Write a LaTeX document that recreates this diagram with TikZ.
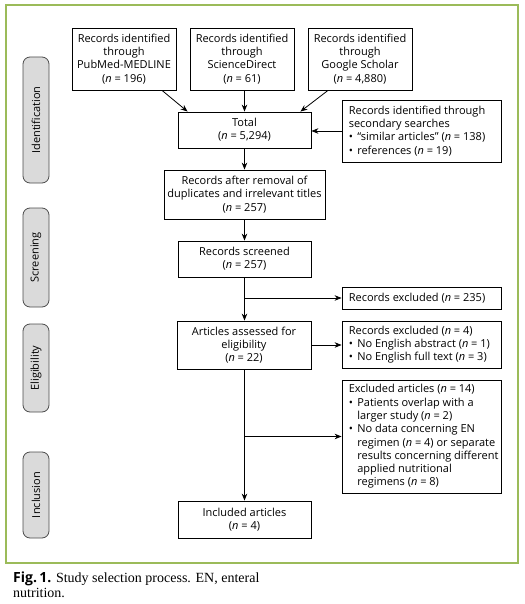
\documentclass[tikz,border=0pt]{standalone}
\usepackage{fontspec}
\setmainfont{Liberation Serif}
\setsansfont{Open Sans}
\newfontfamily\capsans{Open Sans}
\usetikzlibrary{arrows.meta,calc}
\definecolor{framegreen}{RGB}{155,187,89}
\definecolor{labelgray}{RGB}{218,218,218}
\newcommand{\nn}{\textit{n}}
\newcommand{\bitem}{\makebox[8.5pt][l]{•}}
\newcommand{\bcont}{\hspace*{8.5pt}}
\begin{document}
\begin{tikzpicture}[x=1pt,y=-1pt,
  every node/.style={font=\sffamily\fontsize{11}{13.3}\selectfont},
  box/.style={draw,line width=0.8pt,inner sep=0pt,align=center,anchor=center},
  side/.style={draw=black!70,fill=labelgray,line width=0.8pt,rounded corners=7pt,inner sep=0pt,minimum height=26pt,rotate=90,anchor=center},
  arr/.style={line width=0.8pt,-{Stealth[length=7pt,width=5.5pt]}}
]
\useasboundingbox (0,0) rectangle (524,604);
\draw[framegreen,line width=1.2pt] (6,5) rectangle (518,563);

% side labels
\node[side,minimum width=126pt] (lid) at (36,120) {};
\node[rotate=90] (tid) at (lid.center) {Identification};
\node[side,minimum width=99pt] (lsc) at (36,257.5) {};
\node[rotate=90] (tsc) at (lsc.center) {Screening};
\node[side,minimum width=88pt] (lel) at (36,368) {};
\node[rotate=90] (tel) at (lel.center) {Eligibility};
\node[side,minimum width=86pt] (lin) at (36,495) {};
\node[rotate=90] (tin) at (lin.center) {Inclusion};

% main boxes
\node[box,minimum width=104pt,minimum height=62pt] (pub) at (124,59) {Records identified\\through\\PubMed-MEDLINE\\(\nn{} = 196)};
\node[box,minimum width=104pt,minimum height=62pt] (sd) at (242,59) {Records identified\\through\\ScienceDirect\\(\nn{} = 61)};
\node[box,minimum width=104pt,minimum height=62pt] (gs) at (360,59) {Records identified\\through\\Google Scholar\\(\nn{} = 4,880)};
\node[box,minimum width=133pt,minimum height=36pt] (total) at (244.5,130) {Total\\(\nn{} = 5,294)};
\node[box,minimum width=159pt,minimum height=62pt] (sec) at (421.5,131) {};
\node[anchor=west,align=left,inner sep=0pt] (sect) at ($(sec.west)+(7,0)$) {Records identified through\\secondary searches\\\bitem``similar articles'' (\nn{} = 138)\\\bitem references (\nn{} = 19)};
\node[box,minimum width=161pt,minimum height=49pt] (rem) at (244.5,194.5) {Records after removal of\\duplicates and irrelevant titles\\(\nn{} = 257)};
\node[box,minimum width=133pt,minimum height=36pt] (scr) at (244.5,259) {Records screened\\(\nn{} = 257)};
\node[box,minimum width=159pt,minimum height=22pt] (exa) at (421.5,298) {};
\node[anchor=west,align=left,inner sep=0pt] (exat) at ($(exa.west)+(7,0)$) {Records excluded (\nn{} = 235)};
\node[box,minimum width=134pt,minimum height=48pt] (art) at (244,345) {Articles assessed for\\eligibility\\(\nn{} = 22)};
\node[box,minimum width=159pt,minimum height=47pt] (exb) at (421.5,344.5) {};
\node[anchor=west,align=left,inner sep=0pt] (exbt) at ($(exb.west)+(7,0)$) {Records excluded (\nn{} = 4)\\\bitem No English abstract (\nn{} = 1)\\\bitem No English full text (\nn{} = 3)};
\node[box,minimum width=159pt,minimum height=113pt] (exc) at (421.5,436.5) {};
\node[anchor=west,align=left,inner sep=0pt] (exct) at ($(exc.west)+(7,0)$) {Excluded articles (\nn{} = 14)\\\bitem Patients overlap with a\\\bcont larger study (\nn{} = 2)\\\bitem No data concerning EN\\\bcont regimen (\nn{} = 4) or separate\\\bcont results concerning different\\\bcont applied nutritional\\\bcont regimens (\nn{} = 8)};
\node[box,minimum width=133pt,minimum height=37pt] (inc) at (244.5,519.5) {Included articles\\(\nn{} = 4)};

% connectors
\draw[arr] ($(pub.south)+(38,0)$) -- ($(total.north west)+(10,0)$);
\draw[arr] (total.north |- sd.south) -- (total.north);
\draw[arr] ($(gs.south)+(-32,0)$) -- ($(total.north east)+(-11,0)$);
\draw[arr] (sec.west) -- (sec.west -| total.east);
\draw[arr] (total.south) -- (rem.north);
\draw[arr] (rem.south) -- (rem.south |- scr.north);
\draw[arr] (scr.south) -- (scr.south |- art.north);
\draw[arr] (scr.south |- exa.west) -- (exa.west);
\draw[arr] (art.east) -- (art.east -| exb.west);
\draw[arr] (art.south -| scr.south) -- (inc.north);
\draw[arr] (scr.south |- exc.west) -- (exc.west);

% caption
\node[anchor=base west,inner sep=0pt,font=\rmfamily\fontsize{14}{16}\selectfont] (cap1) at (13,582) {{\capsans\bfseries Fig.\,1.} Study selection process. EN, enteral};
\node[anchor=base west,inner sep=0pt,font=\rmfamily\fontsize{14}{16}\selectfont] (cap2) at (13,597) {nutrition.};
\end{tikzpicture}
\end{document}
